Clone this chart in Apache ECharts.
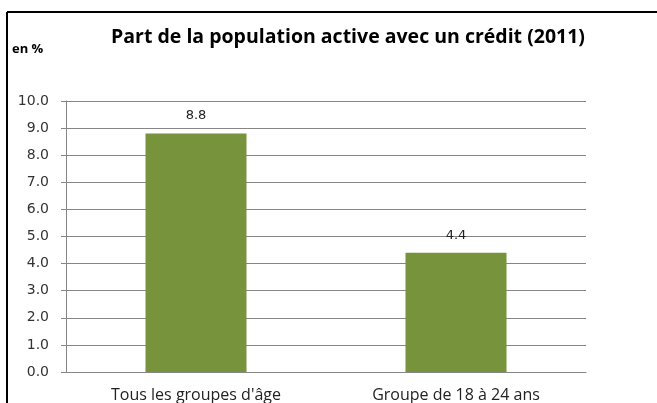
<!DOCTYPE html>
<html>
<head>
<meta charset="utf-8">
<script src="https://cdn.jsdelivr.net/npm/echarts@6/dist/echarts.min.js"></script>
<style>
  html, body { margin: 0; padding: 0; background: #fff; }
  #chart { width: 657px; height: 403px; }
</style>
</head>
<body>
<div id="chart"></div>
<script>
// data
const categories = ["Tous les groupes d'âge", 'Groupe de 18 à 24 ans']
const values = [8.8, 4.4]
const yTicks = { min: 0, max: 10, interval: 1 }

const chart = echarts.init(document.getElementById('chart'))

chart.setOption({
    animation: false,
    backgroundColor: '#fff',
    title: [{
        text: 'Part de la population active avec un crédit (2011)',
        left: 348,
        top: 27,
        padding: 0,
        textAlign: 'center',
        textStyle: { fontFamily: 'Open Sans', fontWeight: 'bold', fontSize: 19.5, color: '#000' }
    }, {
        text: 'en %',
        left: 12,
        top: 43,
        padding: 0,
        textStyle: { fontFamily: 'Open Sans', fontWeight: 'bold', fontSize: 13, color: '#000' }
    }],
    graphic: [
        { type: 'line', shape: { x1: 7, y1: 12, x2: 657, y2: 12 }, style: { stroke: '#000', lineWidth: 2 } },
        { type: 'line', shape: { x1: 7, y1: 12, x2: 7, y2: 403 }, style: { stroke: '#000', lineWidth: 2 } }
    ],
    grid: { left: 66, right: 71, top: 101, bottom: 30 },
    xAxis: {
        type: 'category',
        data: categories,
        axisLine: { lineStyle: { color: '#868686', width: 1 } },
        axisTick: { show: false },
        axisLabel: { fontFamily: 'Open Sans', fontSize: 16, color: '#222', margin: 15 }
    },
    yAxis: {
        type: 'value',
        min: yTicks.min,
        max: yTicks.max,
        interval: yTicks.interval,
        axisLine: { show: true, lineStyle: { color: '#868686', width: 1 } },
        axisTick: { show: true, length: 5, lineStyle: { color: '#868686' } },
        splitLine: { lineStyle: { color: '#868686', width: 1 } },
        axisLabel: {
            fontFamily: 'DejaVu Sans', fontSize: 14, color: '#333', margin: 17,
            formatter: v => v.toFixed(1)
        }
    },
    series: [{
        type: 'bar',
        data: values,
        barWidth: 101,
        itemStyle: { color: '#77933C' },
        label: {
            show: true,
            position: 'top',
            distance: 11,
            fontFamily: 'DejaVu Sans',
            fontSize: 13,
            color: '#222',
            formatter: p => p.value.toFixed(1)
        }
    }]
})
</script>
</body>
</html>
